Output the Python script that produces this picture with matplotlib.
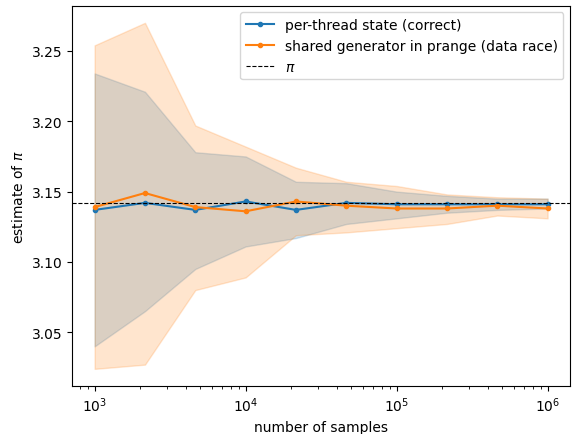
import numpy as np
import matplotlib
matplotlib.use("Agg")
import matplotlib.pyplot as plt

n_samples = [1000, 2154, 4642, 10000, 21544, 46416, 100000, 215443, 464159, 1000000]

good_mean = [3.137, 3.142, 3.137, 3.143, 3.137, 3.142, 3.141, 3.141, 3.141, 3.141]
good_hi = [3.234, 3.221, 3.178, 3.175, 3.157, 3.156, 3.150, 3.147, 3.145, 3.145]
good_lo = [3.040, 3.065, 3.095, 3.111, 3.117, 3.127, 3.131, 3.135, 3.137, 3.138]

race_mean = [3.139, 3.149, 3.139, 3.136, 3.143, 3.140, 3.138, 3.138, 3.140, 3.138]
race_hi = [3.254, 3.270, 3.197, 3.182, 3.167, 3.157, 3.154, 3.148, 3.146, 3.145]
race_lo = [3.024, 3.027, 3.080, 3.089, 3.119, 3.121, 3.124, 3.127, 3.133, 3.131]

fig, ax = plt.subplots(figsize=(5.76, 4.35), dpi=100)

ax.plot(n_samples, good_mean, '.-', color='C0', label='per-thread state (correct)')
ax.fill_between(n_samples, good_lo, good_hi, color='C0', alpha=0.2)
ax.plot(n_samples, race_mean, '.-', color='C1', label='shared generator in prange (data race)')
ax.fill_between(n_samples, race_lo, race_hi, color='C1', alpha=0.2)
ax.axhline(np.pi, color='k', ls='--', lw=0.8, label=r'$\pi$')

ax.set_xscale('log')
ax.set_xlabel('number of samples')
ax.set_ylabel(r'estimate of $\pi$')
ax.legend()

fig.subplots_adjust(left=0.125, right=0.99, top=0.985, bottom=0.11)
fig.savefig('out.png')
